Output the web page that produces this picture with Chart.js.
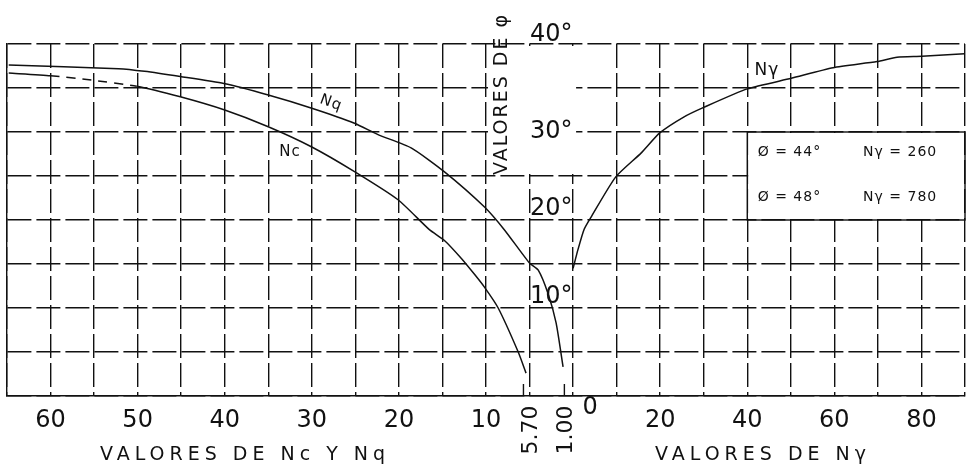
<!DOCTYPE html>
<html>
<head>
<meta charset="utf-8">
<script src="https://cdn.jsdelivr.net/npm/chart.js@4.4.0/dist/chart.umd.min.js"></script>
<style>
body{margin:0;background:#fff;}
</style>
</head>
<body>
<canvas id="chart" width="968" height="474"></canvas>
<script>
//=========== valores ==========================================/
// Nc contra phi (grados)
const phiNc = [36.7, 36.4, 35.9, 35.2, 34.0, 32.5, 30.6, 28.3, 25.5, 22.3, 18.9, 17.7, 15.6, 13.8, 12.4, 10.0, 5.0, 2.6];
const nc    = [64.8, 60.0, 55.3, 50.1, 45.1, 40.0, 35.0, 30.0, 25.1, 20.1, 16.5, 14.8, 12.8, 11.3, 10.2, 8.6, 6.3, 5.4];
// Nq contra phi
const phiNq = [37.6, 37.2, 36.9, 36.3, 35.5, 34.2, 32.7, 31.0, 29.7, 28.2, 25.5, 21.5, 18.9, 15.1, 14.3, 11.7, 8.3, 3.3];
const nq    = [64.8, 52.2, 49.2, 45.1, 40.1, 35.0, 30.0, 25.1, 22.4, 18.6, 14.8, 10.2, 7.9, 5.0, 4.0, 2.9, 1.95, 1.15];
// N gamma contra phi
const phiNg = [14.5, 16.6, 18.9, 20.3, 24.9, 27.6, 29.9, 31.7, 32.8, 34.9, 36.1, 37.3, 38.0, 38.5, 38.6, 38.9];
const ng    = [0, 1.1, 2.5, 4.1, 9.8, 15.6, 19.9, 25.4, 30.0, 40.0, 50.1, 59.7, 69.8, 74.4, 80.1, 89.9];

// etiquetas de los ejes
const leftTicks  = [60, 50, 40, 30, 20, 10];
const specialTicks = [5.7, 1.0];
const specialLabels = ["5.70", "1.00"];
const rightTicks = [20, 40, 60, 80];
const phiLabels  = [40, 30, 20, 10];
const legendPhi  = ["Ø = 44°", "Ø = 48°"];
const legendNg   = ["Nγ = 260", "Nγ = 780"];

// lado izquierdo: x = -N ; lado derecho: x = Ng / 2
const ncPts = nc.map((v, i) => ({x: -v, y: phiNc[i]}));
const nqPts = nq.map((v, i) => ({x: -v, y: phiNq[i]}));
const ngPts = ng.map((v, i) => ({x: v / 2, y: phiNg[i]}));

const FONT = '"DejaVu Sans", sans-serif';

//=========== textos y recuadros =======================/
const textPlugin = {
  id: 'textos',
  beforeDatasetsDraw(chart) {
    const ctx = chart.ctx;
    const xs = chart.scales.x, ys = chart.scales.y;
    const area = chart.chartArea;
    ctx.save();
    ctx.fillStyle = '#fff';
    // recuadro de la leyenda
    const bx = xs.getPixelForValue(20), by = ys.getPixelForValue(30), bb = ys.getPixelForValue(20);
    ctx.fillRect(bx + 1, by + 1, area.right - bx - 2, bb - by - 2);
    ctx.strokeStyle = '#111';
    ctx.lineWidth = 1.4;
    ctx.strokeRect(bx, by, area.right - bx, bb - by);
    // columna del titulo vertical
    const cx1 = xs.getPixelForValue(-10), cx2 = xs.getPixelForValue(0);
    ctx.fillRect(cx1 + 2, area.top + 2, cx2 - cx1 + 1, ys.getPixelForValue(25) - area.top - 4);
    ctx.restore();
  },
  afterDraw(chart) {
    const ctx = chart.ctx;
    const xs = chart.scales.x, ys = chart.scales.y;
    const area = chart.chartArea;
    ctx.save();
    ctx.fillStyle = '#111';
    ctx.strokeStyle = '#111';
    ctx.textAlign = 'center';
    ctx.textBaseline = 'middle';

    // numeros del eje x
    ctx.font = '24px ' + FONT;
    leftTicks.forEach(v => ctx.fillText(String(v), xs.getPixelForValue(-v), area.bottom + 25));
    rightTicks.forEach(v => ctx.fillText(String(v), xs.getPixelForValue(v / 2), area.bottom + 25));
    ctx.fillText('0', xs.getPixelForValue(0) + 17, area.bottom + 12);

    // 5.70 y 1.00 girados
    ctx.font = '22px ' + FONT;
    ctx.lineWidth = 1.4;
    specialTicks.forEach((v, i) => {
      const px = xs.getPixelForValue(-v);
      ctx.beginPath();
      ctx.moveTo(px, area.bottom - 12);
      ctx.lineTo(px, area.bottom);
      ctx.stroke();
      ctx.save();
      ctx.translate(px + (i === 0 ? 8 : 2), area.bottom + 34);
      ctx.rotate(-Math.PI / 2);
      ctx.fillText(specialLabels[i], 0, 0);
      ctx.restore();
    });

    // grados
    ctx.font = '24px ' + FONT;
    phiLabels.forEach(v => {
      let py = ys.getPixelForValue(v);
      if (v === 40) py -= 9;
      else if (v !== 30) py -= 11;
      ctx.fillText(v + '°', xs.getPixelForValue(-2.5), py);
    });

    // titulos
    ctx.font = '19px ' + FONT;
    ctx.letterSpacing = '5px';
    ctx.fillText('VALORES DE Nc Y Nq', 245, area.bottom + 59);
    ctx.fillText('VALORES DE Nγ', 763, area.bottom + 59);

    ctx.letterSpacing = '2px';
    ctx.save();
    ctx.translate(xs.getPixelForValue(-8.2), 94);
    ctx.rotate(-Math.PI / 2);
    ctx.font = '19px ' + FONT;
    ctx.fillText('VALORES DE φ', 0, 0);
    ctx.restore();

    // nombres de las curvas
    ctx.letterSpacing = '1px';
    ctx.font = '15px ' + FONT;
    ctx.save();
    ctx.translate(331, 103);
    ctx.rotate(0.35);
    ctx.fillText('Nq', 0, 0);
    ctx.restore();
    ctx.fillText('Nc', 290, 152);
    ctx.font = '17px ' + FONT;
    ctx.fillText('Nγ', 767, 71);

    // leyenda
    ctx.font = '14px ' + FONT;
    ctx.letterSpacing = '1px';
    ctx.textAlign = 'left';
    const rows = [ys.getPixelForValue(27.7), ys.getPixelForValue(22.6)];
    legendPhi.forEach((t, i) => {
      ctx.fillText(t, xs.getPixelForValue(21.2), rows[i]);
      ctx.fillText(legendNg[i], xs.getPixelForValue(33.3), rows[i]);
    });
    ctx.restore();
  }
};

const line = (pts) => ({
  data: pts,
  showLine: true,
  borderColor: '#111',
  borderWidth: 1.5,
  pointRadius: 0,
  tension: 0.2,
  fill: false
});

const ncSet = line(ncPts);
// tramo discontinuo de Nc entre 60 y 50
ncSet.segment = {
  borderDash: c => (c.p0.parsed.x > -61 && c.p0.parsed.x < -54) ? [9, 7] : undefined
};

const chart = document.getElementById('chart');

new Chart(chart, {
  type: 'scatter',
  data: {
    datasets: [ncSet, line(nqPts), line(ngPts)]
  },
  options: {
    responsive: false,
    animation: false,
    layout: { padding: { left: 7, right: 3, top: 44, bottom: 78 } },
    plugins: {
      legend: { display: false },
      tooltip: { enabled: false }
    },
    scales: {
      x: {
        type: 'linear',
        min: -65,
        max: 45,
        ticks: { stepSize: 5, display: false },
        grid: { color: '#111', lineWidth: 1.4, drawTicks: false },
        border: { display: true, color: '#111', width: 1.4, dash: [24, 5] }
      },
      y: {
        min: 0,
        max: 40,
        ticks: { stepSize: 5, display: false },
        grid: { color: '#111', lineWidth: 1.4, drawTicks: false },
        border: { display: true, color: '#111', width: 1.4, dash: [24, 5] }
      }
    }
  },
  plugins: [textPlugin]
});
</script>
</body>
</html>
